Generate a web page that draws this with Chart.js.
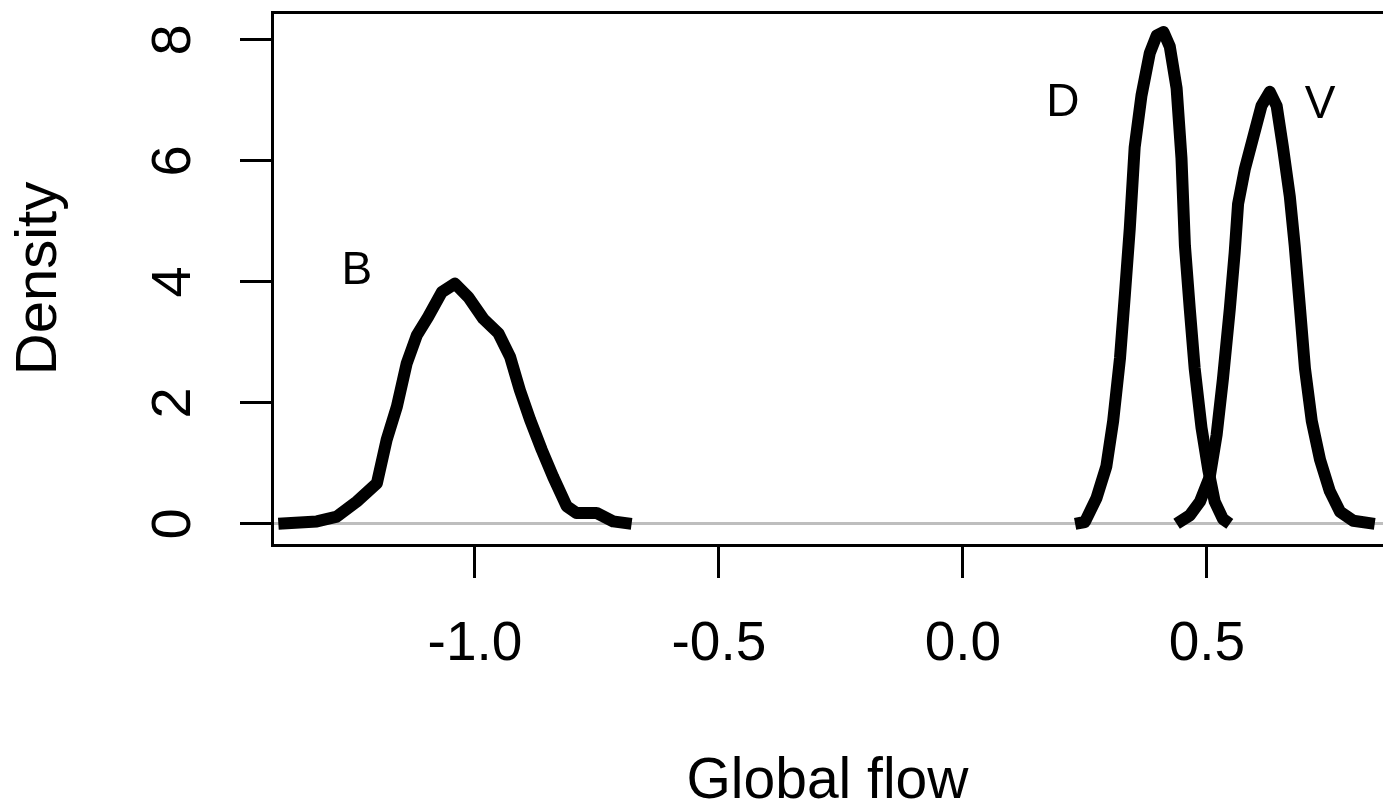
<!DOCTYPE html>
<html>
<head>
<meta charset="utf-8">
<title>Global flow density</title>
<script src="https://cdn.jsdelivr.net/npm/chart.js@4.4.1/dist/chart.umd.min.js"></script>
<style>
  html, body { margin: 0; padding: 0; background: #fff; overflow: hidden; }
  canvas { display: block; }
</style>
</head>
<body>
<canvas id="chart" width="1383" height="804"></canvas>
<script>
// density curves (x = global flow, y = density)
const bX = [-1.403, -1.324, -1.283, -1.242, -1.201, -1.181, -1.160, -1.140, -1.119, -1.096, -1.068, -1.041,
            -1.014, -0.983, -0.952, -0.928, -0.908, -0.887, -0.863, -0.840, -0.812, -0.792, -0.751, -0.717, -0.679];
const bY = [0.00, 0.04, 0.12, 0.37, 0.67, 1.39, 1.94, 2.65, 3.12, 3.42, 3.83, 3.97,
            3.75, 3.39, 3.15, 2.76, 2.21, 1.72, 1.22, 0.78, 0.29, 0.18, 0.18, 0.04, 0.00];

const dX = [0.230, 0.250, 0.274, 0.294, 0.308, 0.322, 0.332, 0.342, 0.352, 0.366, 0.383, 0.397, 0.411,
            0.424, 0.438, 0.448, 0.455, 0.465, 0.475, 0.489, 0.503, 0.516, 0.533, 0.547];
const dY = [0.00, 0.03, 0.43, 0.95, 1.70, 2.74, 3.79, 4.88, 6.22, 7.08, 7.78, 8.07, 8.13,
            7.89, 7.20, 6.04, 4.60, 3.55, 2.57, 1.59, 0.89, 0.37, 0.08, 0.00];

const vX = [0.438, 0.465, 0.486, 0.506, 0.520, 0.533, 0.547, 0.557, 0.564, 0.578, 0.595, 0.612, 0.629,
            0.643, 0.656, 0.670, 0.680, 0.691, 0.701, 0.715, 0.732, 0.752, 0.773, 0.800, 0.844];
const vY = [0.00, 0.14, 0.37, 0.78, 1.47, 2.40, 3.55, 4.48, 5.29, 5.87, 6.39, 6.91, 7.14,
            6.91, 6.22, 5.41, 4.60, 3.55, 2.57, 1.70, 1.06, 0.54, 0.20, 0.05, 0.00];

const xTicks = [-1.0, -0.5, 0.0, 0.5];
const yTicks = [0, 2, 4, 6, 8];

// curve labels
const labelText = ['B', 'D', 'V'];
const labelX = [-1.242, 0.205, 0.732];
const labelY = [4.17, 6.95, 6.91];

const FONT = "'Liberation Sans', Arial, sans-serif";

function toPoints(xs, ys) {
    return xs.map((x, i) => ({ x: x, y: ys[i] }));
}

const curveStyle = {
    showLine: true,
    borderColor: '#000000',
    borderWidth: 12,
    pointRadius: 0,
    tension: 0,
    fill: false,
    borderJoinStyle: 'round',
    borderCapStyle: 'butt'
};

// B / D / V letters next to the peaks
const curveLabels = {
    id: 'curveLabels',
    afterDatasetsDraw(chart) {
        const { ctx, scales } = chart;
        ctx.save();
        ctx.fillStyle = '#000';
        ctx.font = "46px " + FONT;
        ctx.textAlign = 'center';
        ctx.textBaseline = 'middle';
        labelText.forEach((t, i) => {
            ctx.fillText(t, scales.x.getPixelForValue(labelX[i]), scales.y.getPixelForValue(labelY[i]));
        });
        ctx.restore();
    }
};

new Chart(document.getElementById('chart'), {
    type: 'scatter',
    data: {
        datasets: [
            Object.assign({ label: 'B', data: toPoints(bX, bY) }, curveStyle),
            Object.assign({ label: 'D', data: toPoints(dX, dY) }, curveStyle),
            Object.assign({ label: 'V', data: toPoints(vX, vY) }, curveStyle)
        ]
    },
    options: {
        responsive: false,
        animation: false,
        devicePixelRatio: 1,
        layout: { padding: { top: 12, right: 0, bottom: 0, left: 0 } },
        plugins: {
            legend: { display: false },
            tooltip: { enabled: false }
        },
        scales: {
            x: {
                type: 'linear',
                position: 'bottom',
                min: -1.416,
                max: 0.861,
                afterBuildTicks: (scale) => { scale.ticks = xTicks.map(v => ({ value: v })); },
                afterFit: (scale) => {
                    scale.height = 259;
                    scale.paddingLeft = 0;
                    scale.paddingRight = 0;
                },
                grid: { drawOnChartArea: false, drawTicks: true, tickLength: 33, tickWidth: 3, tickColor: '#000' },
                border: { display: true, color: '#000', width: 3 },
                ticks: {
                    color: '#000',
                    padding: 34,
                    maxRotation: 0,
                    autoSkip: false,
                    font: { family: FONT, size: 55 },
                    callback: (v) => v.toFixed(1)
                },
                title: {
                    display: true,
                    text: 'Global flow',
                    color: '#000',
                    font: { family: FONT, size: 57 },
                    padding: { top: 0, bottom: -12 }
                }
            },
            xTop: {
                type: 'linear',
                position: 'top',
                min: -1.416,
                max: 0.861,
                afterFit: (scale) => { scale.height = 0; },
                grid: { display: false, drawTicks: false },
                border: { display: true, color: '#000', width: 3 },
                ticks: { display: false }
            },
            y: {
                type: 'linear',
                position: 'left',
                min: -0.35,
                max: 8.46,
                afterBuildTicks: (scale) => { scale.ticks = yTicks.map(v => ({ value: v })); },
                afterFit: (scale) => {
                    scale.width = 272;
                    scale.paddingTop = 0;
                    scale.paddingBottom = 0;
                },
                grid: {
                    drawOnChartArea: true,
                    drawTicks: true,
                    tickLength: 32,
                    tickWidth: 3,
                    tickColor: '#000',
                    lineWidth: 3,
                    color: (c) => (c.tick && c.tick.value === 0 ? '#bebebe' : 'rgba(0,0,0,0)')
                },
                border: { display: true, color: '#000', width: 3 },
                ticks: {
                    color: '#000',
                    padding: 50,
                    minRotation: 90,
                    maxRotation: 90,
                    crossAlign: 'center',
                    autoSkip: false,
                    font: { family: FONT, size: 56 }
                },
                title: {
                    display: true,
                    text: 'Density',
                    color: '#000',
                    font: { family: FONT, size: 58 },
                    padding: { top: 5, bottom: 0 }
                }
            }
        }
    },
    plugins: [curveLabels]
});
</script>
</body>
</html>
